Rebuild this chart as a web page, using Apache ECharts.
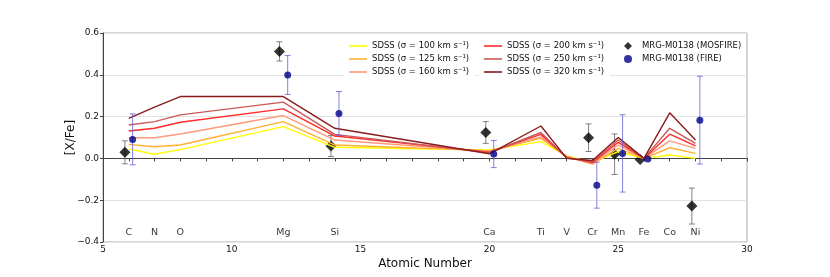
<!DOCTYPE html>
<html><head><meta charset="utf-8">
<script src="https://cdn.jsdelivr.net/npm/echarts@6/dist/echarts.min.js"></script>
<style>html,body{margin:0;padding:0;background:#fff}#c{width:830px;height:277px}</style>
</head><body><div id="c"></div>
<script>
const atomicNumbers = [6, 7, 8, 12, 14, 20, 22, 23, 24, 25, 26, 27, 28];
const elementNames  = ['C','N','O','Mg','Si','Ca','Ti','V','Cr','Mn','Fe','Co','Ni'];
const sdssLabels = ['SDSS (σ = 100 km s⁻¹)','SDSS (σ = 125 km s⁻¹)','SDSS (σ = 160 km s⁻¹)','SDSS (σ = 200 km s⁻¹)','SDSS (σ = 250 km s⁻¹)','SDSS (σ = 320 km s⁻¹)'];
const sdss100 = [0.045, 0.020, 0.042, 0.152, 0.053, 0.040, 0.080, 0.012, -0.020, 0.032, 0.000, 0.016, 0.000];
const sdss125 = [0.067, 0.056, 0.064, 0.176, 0.064, 0.037, 0.096, 0.010, -0.027, 0.048, 0.000, 0.051, 0.024];
const sdss160 = [0.099, 0.099, 0.117, 0.205, 0.088, 0.033, 0.103, 0.008, -0.025, 0.064, 0.000, 0.084, 0.048];
const sdss200 = [0.131, 0.144, 0.173, 0.237, 0.107, 0.030, 0.115, 0.005, -0.020, 0.077, 0.000, 0.116, 0.060];
const sdss250 = [0.160, 0.176, 0.208, 0.269, 0.115, 0.027, 0.124, 0.002, -0.015, 0.088, 0.000, 0.144, 0.072];
const sdss320 = [0.192, 0.245, 0.296, 0.296, 0.144, 0.022, 0.155, 0.000, -0.010, 0.100, 0.000, 0.218, 0.088];

const mosfireX   = [5.85, 11.85, 13.85, 19.86, 23.85, 24.86, 25.85, 27.86];
const mosfireY   = [0.029, 0.512, 0.059, 0.124, 0.099, 0.020, -0.005, -0.228];
const mosfireErr = [0.055, 0.046, 0.050, 0.052, 0.066, 0.097, 0.000, 0.086];
const fireX   = [6.15, 12.17, 14.16, 20.17, 24.17, 25.17, 26.15, 28.17];
const fireY   = [0.091, 0.399, 0.215, 0.021, -0.128, 0.024, -0.003, 0.183];
const fireErr = [0.122, 0.093, 0.105, 0.065, 0.110, 0.185, 0.000, 0.210];
const elementLabelY = -0.357;

const sdssSeriesData = [sdss100, sdss125, sdss160, sdss200, sdss250, sdss320];
const sdssColors = ['#ffff00', '#ffb030', '#ff9a78', '#ff2a2a', '#c85a5a', '#8b1c1c'];

const chart = echarts.init(document.getElementById('c'), null, {renderer: 'canvas'});
const font = 'DejaVu Sans';

function errRender(color) {
  return function (params, api) {
    const x = api.value(0), y = api.value(1), e = api.value(2);
    if (!e) return null;
    const t = api.coord([x, y + e]), b = api.coord([x, y - e]);
    const cap = 3;
    const st = {stroke: color, lineWidth: 1};
    return {type: 'group', children: [
      {type: 'line', shape: {x1: t[0], y1: t[1], x2: b[0], y2: b[1]}, style: st},
      {type: 'line', shape: {x1: t[0] - cap, y1: t[1], x2: t[0] + cap, y2: t[1]}, style: st},
      {type: 'line', shape: {x1: b[0] - cap, y1: b[1], x2: b[0] + cap, y2: b[1]}, style: st}
    ]};
  };
}

const series = [];
sdssSeriesData.forEach((arr, i) => {
  series.push({
    name: sdssLabels[i], type: 'line', z: 4, symbol: 'none', silent: true,
    lineStyle: {color: sdssColors[i], width: 1.4},
    itemStyle: {color: sdssColors[i]},
    data: atomicNumbers.map((z, j) => [z, arr[j]])
  });
});
series.push({
  name: 'mosErr', type: 'custom', z: 2, silent: true,
  renderItem: errRender('rgba(90,90,90,0.75)'),
  data: mosfireX.map((x, i) => [x, mosfireY[i], mosfireErr[i]])
});
series.push({
  name: 'MRG-M0138 (MOSFIRE)', type: 'scatter', z: 3,
  symbol: 'path://M0,-1L1,0L0,1L-1,0Z', symbolSize: 11,
  itemStyle: {color: '#000'},
  data: mosfireX.map((x, i) => [x, mosfireY[i]])
});
series.push({
  name: 'fireErr', type: 'custom', z: 5, silent: true,
  renderItem: errRender('rgba(90,90,210,0.75)'),
  data: fireX.map((x, i) => [x, fireY[i], fireErr[i]])
});
series.push({
  name: 'MRG-M0138 (FIRE)', type: 'scatter', z: 6,
  symbol: 'circle', symbolSize: 7,
  itemStyle: {color: '#00008b'},
  data: fireX.map((x, i) => [x, fireY[i]])
});
series.push({
  name: 'elements', type: 'scatter', z: 6, silent: true, symbolSize: 0,
  label: {show: true, position: 'inside', formatter: p => p.value[2], color: '#000', fontSize: 9.5, fontFamily: font},
  data: atomicNumbers.map((z, i) => [z, elementLabelY, elementNames[i]])
});

const legendCommon = {
  orient: 'vertical', top: 38, itemWidth: 18, itemHeight: 1.6, itemGap: 3,
  padding: [3, 6, 4, 5], backgroundColor: '#fff',
  textStyle: {fontSize: 8.5, fontFamily: font, color: '#111', lineHeight: 10},
  selectedMode: false
};
const lineLegendData = names => names.map(n => ({name: n, icon: 'rect'}));

chart.setOption({
  animation: false,
  backgroundColor: '#fff',
  grid: {left: 103, right: 83, top: 33, bottom: 35, show: true, borderColor: '#aaa', borderWidth: 1},
  legend: [
    Object.assign({}, legendCommon, {left: 344, data: lineLegendData(sdssLabels.slice(0, 3))}),
    Object.assign({}, legendCommon, {left: 479, data: lineLegendData(sdssLabels.slice(3, 6))}),
    Object.assign({}, legendCommon, {left: 619, data: ['MRG-M0138 (MOSFIRE)', 'MRG-M0138 (FIRE)'],
      itemHeight: 8, backgroundColor: 'transparent', padding: [3, 0, 4, 5]})
  ],
  xAxis: {
    type: 'value', min: 5, max: 30, interval: 5,
    name: 'Atomic Number', nameLocation: 'middle', nameGap: 16, nameMoveOverlap: false,
    nameTextStyle: {fontSize: 12, fontFamily: font, color: '#111'},
    axisLine: {show: true, lineStyle: {color: '#444', width: 1}},
    axisTick: {show: true, length: 3, lineStyle: {color: '#444'}},
    minorTick: {show: true, splitNumber: 5, length: 3, lineStyle: {color: '#444'}},
    axisLabel: {fontSize: 9, fontFamily: font, color: '#111', margin: 3},
    splitLine: {show: false}
  },
  yAxis: {
    type: 'value', min: -0.4, max: 0.6, interval: 0.2,
    name: '[X/Fe]', nameLocation: 'middle', nameGap: 26, nameMoveOverlap: false,
    nameTextStyle: {fontSize: 12, fontFamily: font, color: '#111'},
    axisLine: {show: true, lineStyle: {color: '#444', width: 1}},
    axisTick: {show: true, length: 3, lineStyle: {color: '#444'}},
    axisLabel: {fontSize: 9, fontFamily: font, color: '#111', margin: 4,
      formatter: v => (Math.abs(v) < 1e-9 ? 0 : v).toFixed(1).replace('-', '−')},
    splitLine: {show: true, lineStyle: {color: '#e3e3e3', width: 1}}
  },
  series: series
});
</script></body></html>
